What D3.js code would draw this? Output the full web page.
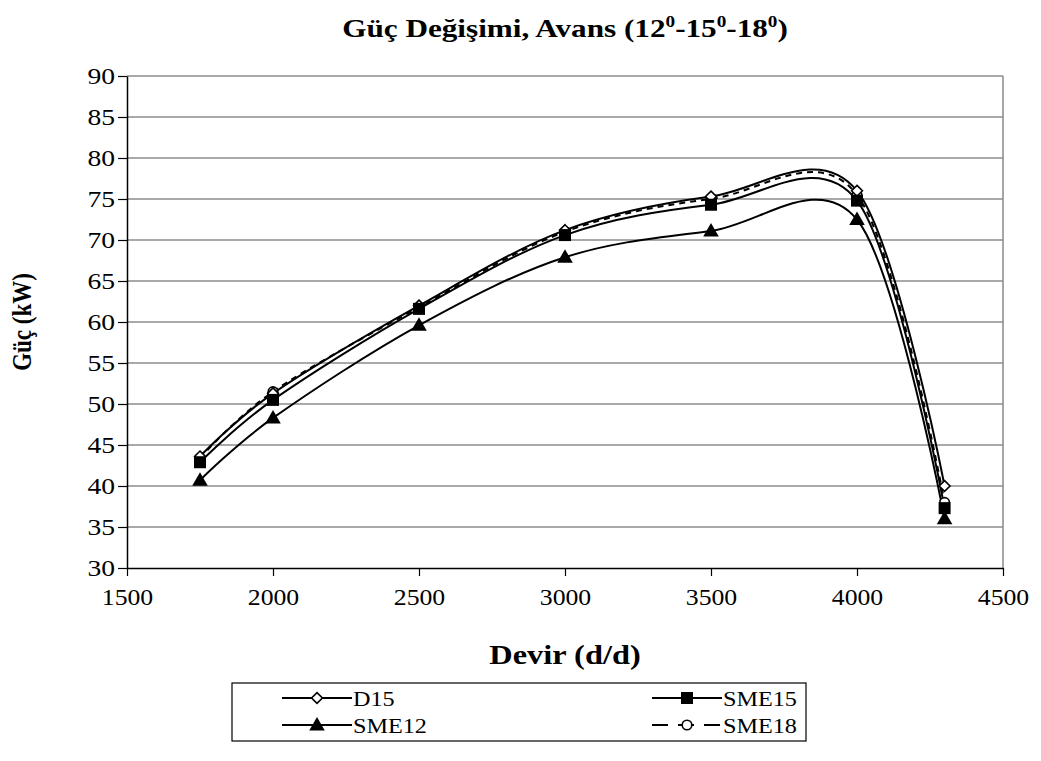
<!DOCTYPE html>
<html>
<head>
<meta charset="utf-8">
<script src="https://cdn.jsdelivr.net/npm/d3@7"></script>
<style>
  body { margin: 0; background: #fff; }
</style>
</head>
<body>
<svg id="chart" width="1041" height="761"></svg>
<script>
const devir = [1750, 2000, 2500, 3000, 3500, 4000, 4300];
const d15 = [43.6, 51.3, 62.0, 71.2, 75.3, 76.0, 40.0];
const sme15 = [42.9, 50.5, 61.6, 70.6, 74.3, 74.8, 37.3];
const sme12 = [40.7, 48.3, 59.6, 67.9, 71.1, 72.5, 36.0];
const sme18 = [43.4, 51.5, 61.8, 71.0, 75.0, 75.5, 38.0];
const xTicks = [1500, 2000, 2500, 3000, 3500, 4000, 4500];
const yTicks = [30, 35, 40, 45, 50, 55, 60, 65, 70, 75, 80, 85, 90];

const FONT = "Liberation Serif, Times New Roman, serif";
const SX = 1.2; // the original chart text is a little wider than tall
const svg = d3.select("#chart");
const m = {left: 127, right: 1003, top: 76, bottom: 568};

const x = d3.scaleLinear().domain([1500, 4500]).range([m.left, m.right]);
const y = d3.scaleLinear().domain([30, 90]).range([m.bottom, m.top]);

// gridlines
svg.append("g").selectAll("line")
    .data(yTicks.slice(1))
    .enter().append("line")
    .attr("x1", m.left).attr("x2", m.right)
    .attr("y1", d => y(d)).attr("y2", d => y(d))
    .attr("stroke", "#555").attr("stroke-width", 1.2);

// right border
svg.append("line")
    .attr("x1", m.right).attr("x2", m.right)
    .attr("y1", m.top).attr("y2", m.bottom)
    .attr("stroke", "#888").attr("stroke-width", 1.5);

const xAxis = svg.append("g")
    .attr("transform", "translate(0," + m.bottom + ")")
    .call(d3.axisBottom(x).tickValues(xTicks).tickFormat(d3.format("d"))
        .tickSize(8).tickSizeOuter(0).tickPadding(13));
const yAxis = svg.append("g")
    .attr("transform", "translate(" + m.left + ",0)")
    .call(d3.axisLeft(y).tickValues(yTicks).tickSize(9).tickSizeOuter(0).tickPadding(1));

[xAxis, yAxis].forEach(a => {
    a.attr("font-family", FONT).attr("font-size", 23);
    a.select(".domain").attr("stroke", "#000").attr("stroke-width", 1.5);
    a.selectAll(".tick line").attr("stroke", "#000").attr("stroke-width", 1.2);
    a.selectAll(".tick text").attr("fill", "#000");
});
xAxis.selectAll(".tick text").attr("transform", "scale(1.12,1)");
yAxis.selectAll(".tick text").attr("transform", "scale(" + SX + ",1)");

const series = [
    {name: "D15", values: d15, marker: "diamond", dash: null},
    {name: "SME15", values: sme15, marker: "square", dash: null},
    {name: "SME12", values: sme12, marker: "triangle", dash: null},
    {name: "SME18", values: sme18, marker: "circle", dash: "6,5"}
];

const line = d3.line()
    .x(d => x(d[0]))
    .y(d => y(d[1]))
    .curve(d3.curveCardinal.tension(0));

function drawMarker(g, type, cx, cy) {
    if (type === "diamond") {
        g.append("path").attr("d", d3.symbol(d3.symbolDiamond2, 75)())
            .attr("transform", "translate(" + cx + "," + cy + ")")
            .attr("fill", "#fff").attr("stroke", "#000").attr("stroke-width", 1.6);
    } else if (type === "square") {
        g.append("rect").attr("x", cx - 6).attr("y", cy - 6)
            .attr("width", 12).attr("height", 12).attr("fill", "#000");
    } else if (type === "triangle") {
        g.append("path").attr("d", d3.symbol(d3.symbolTriangle, 105)())
            .attr("transform", "translate(" + cx + "," + (cy + 1) + ")")
            .attr("fill", "#000");
    } else {
        g.append("circle").attr("cx", cx).attr("cy", cy).attr("r", 4.8)
            .attr("fill", "#fff").attr("stroke", "#000").attr("stroke-width", 1.6);
    }
}

const plot = svg.append("g");
series.forEach(s => {
    const pts = devir.map((d, i) => [d, s.values[i]]);
    plot.append("path")
        .datum(pts)
        .attr("d", line)
        .attr("fill", "none")
        .attr("stroke", "#000")
        .attr("stroke-width", 2)
        .attr("stroke-dasharray", s.dash);
});
// markers on top
[series[3], series[0], series[1], series[2]].forEach(s => {
    const g = plot.append("g");
    devir.forEach((d, i) => drawMarker(g, s.marker, x(d), y(s.values[i])));
});

// title
const title = svg.append("text")
    .attr("transform", "translate(565,37) scale(" + SX + ",1)")
    .attr("text-anchor", "middle")
    .attr("font-family", FONT).attr("font-size", 26).attr("font-weight", "bold");
title.append("tspan").text("Güç Değişimi, Avans (12");
title.append("tspan").attr("dy", -10).attr("font-size", 16).text("0");
title.append("tspan").attr("dy", 10).text("-15");
title.append("tspan").attr("dy", -10).attr("font-size", 16).text("0");
title.append("tspan").attr("dy", 10).text("-18");
title.append("tspan").attr("dy", -10).attr("font-size", 16).text("0");
title.append("tspan").attr("dy", 10).text(")");

svg.append("text")
    .attr("transform", "translate(565,664) scale(" + SX + ",1)")
    .attr("text-anchor", "middle")
    .attr("font-family", FONT).attr("font-size", 27).attr("font-weight", "bold")
    .text("Devir (d/d)");

svg.append("text")
    .attr("transform", "translate(31," + ((m.top + m.bottom) / 2) + ") scale(" + SX + ",1) rotate(-90)")
    .attr("text-anchor", "middle")
    .attr("font-family", FONT).attr("font-size", 23).attr("font-weight", "bold")
    .text("Güç (kW)");

// legend
const lg = svg.append("g");
lg.append("rect")
    .attr("x", 232).attr("y", 683).attr("width", 574).attr("height", 58)
    .attr("fill", "#fff").attr("stroke", "#000").attr("stroke-width", 1.2);

const legendPos = [
    {s: series[0], x: 282, y: 698},
    {s: series[1], x: 652, y: 698},
    {s: series[2], x: 282, y: 725},
    {s: series[3], x: 652, y: 725}
];
legendPos.forEach(p => {
    lg.append("line")
        .attr("x1", p.x).attr("x2", p.x + 70)
        .attr("y1", p.y).attr("y2", p.y)
        .attr("stroke", "#000").attr("stroke-width", 2)
        .attr("stroke-dasharray", p.s.dash ? "16,10" : null);
    drawMarker(lg, p.s.marker, p.x + 35, p.y);
    lg.append("text")
        .attr("transform", "translate(" + (p.x + 71) + "," + (p.y + 8) + ") scale(1.1,1)")
        .attr("font-family", FONT).attr("font-size", 22)
        .text(p.s.name);
});
</script>
</body>
</html>
